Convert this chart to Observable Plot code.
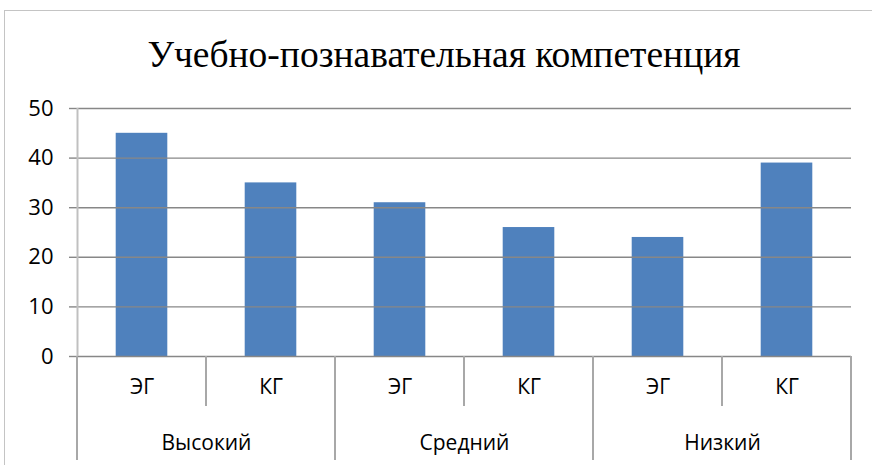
<!DOCTYPE html>
<html><head><meta charset="utf-8">
<script src="https://cdn.jsdelivr.net/npm/d3@7"></script>
<script src="https://cdn.jsdelivr.net/npm/@observablehq/plot@0.6"></script>
<style>
html,body{margin:0;padding:0;background:#fff;}
#wrap{position:relative;width:872px;height:465px;overflow:hidden;background:#fff;}
#frame{position:absolute;left:4px;top:10px;width:900px;height:500px;border-left:1.5px solid #c4c4c4;border-top:1.5px solid #c4c4c4;}
#title{position:absolute;left:0;width:888px;top:36px;text-align:center;font-family:"Liberation Serif","Times New Roman",serif;font-size:37.5px;line-height:37.5px;color:#000;white-space:nowrap;}
#chart{position:absolute;left:0;top:0;}
</style></head>
<body>
<div id="wrap"><div id="frame"></div><div id="title"></div><div id="chart"></div></div>
<script>
const titleText = "Учебно-познавательная компетенция";
const groups = ["Высокий", "Средний", "Низкий"];
const subgroups = ["ЭГ", "КГ"];
const egValues = [45, 31, 24];
const kgValues = [35, 26, 39];
const yTicks = [0, 10, 20, 30, 40, 50];

document.getElementById("title").textContent = titleText;

const rows = [];
groups.forEach((g, gi) => {
  rows.push({group: g, sub: subgroups[0], value: egValues[gi], i: gi * 2});
  rows.push({group: g, sub: subgroups[1], value: kgValues[gi], i: gi * 2 + 1});
});
const n = rows.length;

const plot = Plot.plot({
  width: 872, height: 465,
  marginLeft: 77, marginRight: 21, marginTop: 108, marginBottom: 109,
  style: {fontFamily: "'Open Sans', sans-serif", fontSize: "21px", color: "#000", background: "transparent", overflow: "visible"},
  x: {type: "linear", domain: [0, n], axis: null},
  y: {domain: [0, 50], axis: null},
  marks: [
    Plot.rectY(rows, {x1: "i", x2: d => d.i + 1, y: "value", fill: "#4F81BD", insetLeft: 38.7, insetRight: 38.7}),
    Plot.ruleY(yTicks, {x1: 0, x2: n, stroke: "#878787", strokeWidth: 1.4}),
    Plot.axisY({ticks: yTicks, tickSize: 8, tickPadding: 16, stroke: "#878787", strokeWidth: 1.4, label: null, fontSize: 22, fill: "#000"}),
    Plot.ruleX([0], {y1: 0, y2: 50, stroke: "#c0c0c0", strokeWidth: 2}),
    Plot.text(rows, {x: d => d.i + 0.5, y: 0, text: "sub", dy: 31, fontSize: 21, fill: "#000"}),
    Plot.text(groups, {x: (d, i) => 2 * i + 1, y: 0, text: d => d, dy: 87, fontSize: 21, fill: "#000"})
  ]
});

// category separators below the axis, positioned with the plot's own scales
const xs = plot.scale("x"), ys = plot.scale("y");
const svg = d3.select(plot);
const y0 = ys.apply(0);
for (let k = 0; k <= n; k++) {
  const long = k % 2 === 0;
  svg.append("line")
    .attr("x1", xs.apply(k)).attr("x2", xs.apply(k))
    .attr("y1", y0).attr("y2", y0 + (long ? 104 : 50))
    .attr("stroke", "#a8a8a8").attr("stroke-width", 2);
}
document.getElementById("chart").appendChild(plot);
</script>
</body></html>
